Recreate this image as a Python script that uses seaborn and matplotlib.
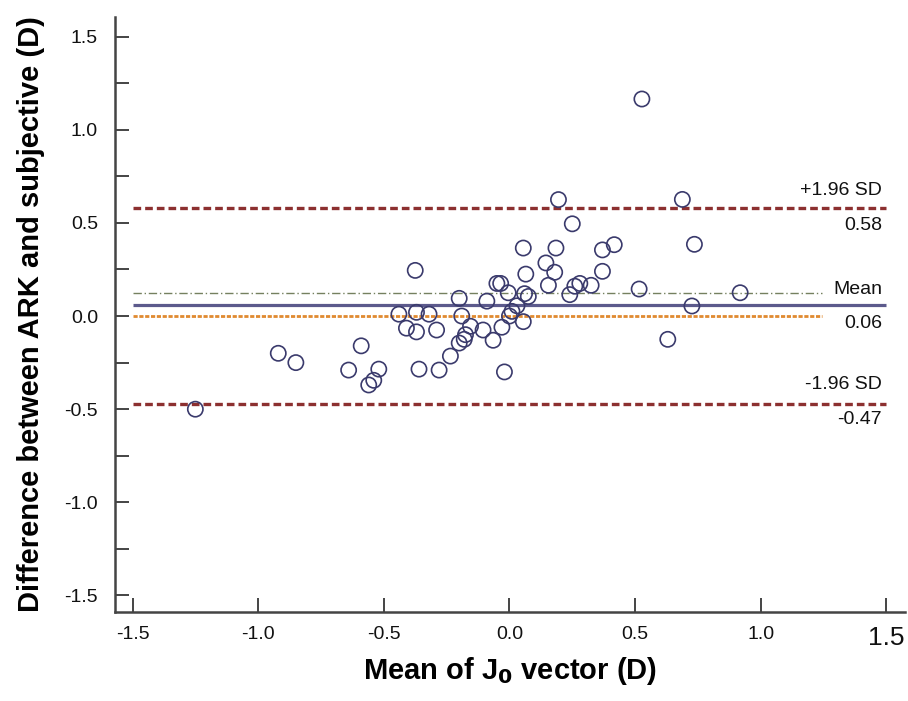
import numpy as np
import pandas as pd
import matplotlib
matplotlib.use("Agg")
import matplotlib.pyplot as plt
import seaborn as sns

# mean of J0 vector (D) and ARK - subjective difference (D)
mean_j0 = [-1.25, -0.92, -0.85, -0.64, -0.59, -0.56, -0.54, -0.52, -0.44, -0.41,
           -0.375, -0.37, -0.37, -0.36, -0.32, -0.29, -0.28, -0.235, -0.20, -0.20,
           -0.19, -0.18, -0.175, -0.155, -0.105, -0.09, -0.065, -0.05, -0.035, -0.03,
           -0.02, -0.005, 0.0, 0.01, 0.03, 0.055, 0.055, 0.06, 0.075, 0.065,
           0.145, 0.155, 0.18, 0.185, 0.195, 0.24, 0.25, 0.26, 0.28, 0.325,
           0.37, 0.37, 0.417, 0.516, 0.527, 0.63, 0.688, 0.726, 0.736, 0.918]
diff = [-0.50, -0.20, -0.25, -0.29, -0.16, -0.37, -0.345, -0.285, 0.01, -0.065,
        0.245, 0.02, -0.085, -0.285, 0.01, -0.075, -0.29, -0.215, -0.145, 0.095,
        0.0, -0.125, -0.10, -0.055, -0.075, 0.08, -0.13, 0.175, 0.175, -0.06,
        -0.30, 0.125, 0.0, 0.025, 0.055, -0.03, 0.365, 0.12, 0.105, 0.225,
        0.285, 0.165, 0.235, 0.365, 0.625, 0.115, 0.495, 0.16, 0.175, 0.165,
        0.355, 0.24, 0.383, 0.145, 1.165, -0.125, 0.626, 0.054, 0.385, 0.125]

mean_diff = 0.06
upper_loa = 0.58
lower_loa = -0.47
ref_line = 0.122   # dash-dot reference line
zero_line = 0.0

y_ticks = [-1.5, -1.0, -0.5, 0.0, 0.5, 1.0, 1.5]
x_ticks = [-1.5, -1.0, -0.5, 0.0, 0.5, 1.0, 1.5]

df = pd.DataFrame({"mean": mean_j0, "diff": diff})

sns.set_style("ticks")
plt.rcParams["font.family"] = ["Liberation Sans", "DejaVu Sans"]

fig = plt.figure(figsize=(9.08, 7.01), dpi=100)
ax = fig.add_axes([0.1263, 0.1274, 0.8704, 0.8483])

# reference lines
ax.hlines(upper_loa, -1.5, 1.5, color="#8c3030", lw=2.4, linestyles=(0, (2.3, 1.2)), zorder=1)
ax.hlines(lower_loa, -1.5, 1.5, color="#8c3030", lw=2.4, linestyles=(0, (2.3, 1.2)), zorder=1)
ax.hlines(mean_diff, -1.5, 1.5, color="#5c5a8c", lw=2.3, zorder=1)
ax.hlines(ref_line, -1.5, 1.245, color="#75805f", lw=1.0, linestyles=(0, (6, 2, 1, 2)), zorder=1)
ax.hlines(zero_line, -1.5, 1.245, color="#e08a30", lw=2.0, linestyles=(0, (1.5, 0.6)), zorder=1)

sns.scatterplot(data=df, x="mean", y="diff", ax=ax, s=120, facecolor="none",
                edgecolor="#3a3a6c", linewidth=1.2, zorder=3)

# line labels
txt = dict(ha="right", va="center", fontsize=14, color="#111111")
ax.text(1.482, upper_loa + 0.096, "+1.96 SD", **txt)
ax.text(1.482, upper_loa - 0.095, f"{upper_loa:.2f}", **txt)
ax.text(1.482, ref_line + 0.023, "Mean", **txt)
ax.text(1.482, mean_diff - 0.098, f"{mean_diff:.2f}", **txt)
ax.text(1.482, lower_loa + 0.105, "-1.96 SD", **txt)
ax.text(1.482, lower_loa - 0.088, f"{lower_loa:.2f}", **txt)

ax.set_xlim(-1.571, 1.574)
ax.set_ylim(-1.587, 1.605)
ax.set_xticks(x_ticks)
ax.set_yticks(y_ticks)
ax.set_yticks(np.arange(-1.25, 1.5, 0.5), minor=True)
ax.set_xticklabels([f"{v:.1f}" for v in x_ticks])
ax.set_yticklabels([f"{v:.1f}" for v in y_ticks])

ax.tick_params(axis="both", which="both", direction="in", length=10, width=1.4,
               color="#444444", labelsize=14, labelcolor="#111111")
ax.tick_params(axis="y", pad=12)
ax.tick_params(axis="x", pad=10)
# the last x tick label is drawn larger in the original
ax.get_xticklabels()[-1].set_fontsize(19)

sns.despine(ax=ax)
for side in ["left", "bottom"]:
    ax.spines[side].set_linewidth(1.8)
    ax.spines[side].set_color("#444444")

ax.set_xlabel("Mean of J$_\\mathbf{0}$ vector (D)", fontsize=21, fontweight="bold",
              labelpad=4, color="black")
ax.set_ylabel("Difference between ARK and subjective (D)", fontsize=21, fontweight="bold",
              labelpad=14, color="black")
ax.grid(False)

fig.savefig("out.png", dpi=100)
